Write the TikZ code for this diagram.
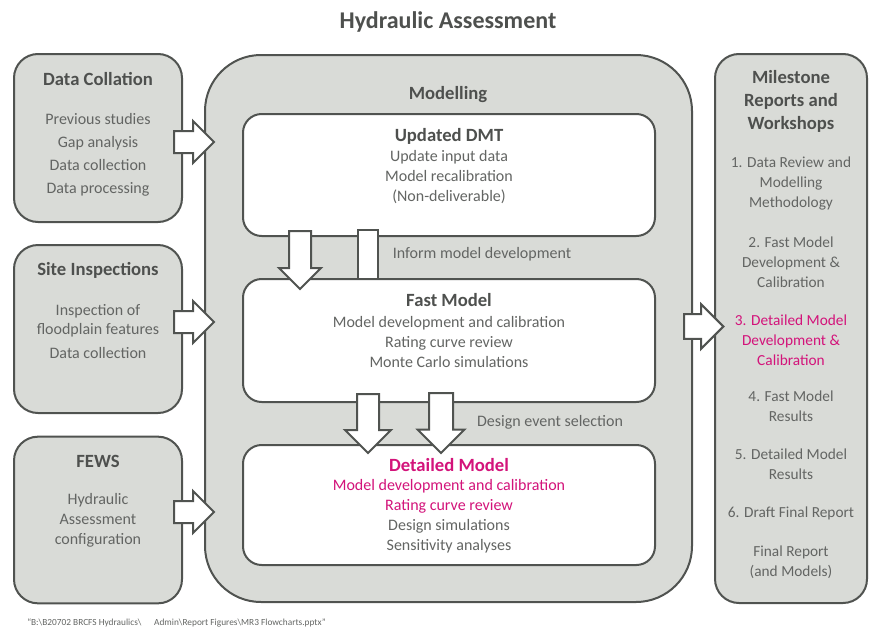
\documentclass[tikz,border=0pt]{standalone}
\usepackage{fontspec}
\setmainfont{Carlito}
\usetikzlibrary{shapes.arrows}
\definecolor{boxfill}{HTML}{D9DBD7}
\definecolor{edgec}{HTML}{505350}
\definecolor{txtc}{HTML}{636563}
\definecolor{ttlc}{HTML}{4E504E}
\definecolor{pinkc}{HTML}{D3137A}
\begin{document}
\begin{tikzpicture}[x=0.75pt,y=-0.75pt,
  sidebox/.style={draw=edgec, line width=1.5pt, fill=boxfill, rounded corners=18pt, minimum width=126pt, inner sep=0pt},
  bigbox/.style={draw=edgec, line width=1.5pt, fill=boxfill, rounded corners=42pt, inner sep=0pt},
  innerbox/.style={draw=edgec, line width=1.5pt, fill=white, rounded corners=14pt, minimum width=309pt, inner sep=0pt},
  ttl/.style={text=ttlc, font=\fontsize{14pt}{17.25pt}\selectfont\bfseries, align=center, inner sep=0pt},
  body/.style={text=txtc, font=\fontsize{12pt}{17.25pt}\selectfont, align=center, inner sep=0pt},
  ibody/.style={text=txtc, font=\fontsize{12pt}{15pt}\selectfont, align=center, inner sep=0pt},
  mbody/.style={text=txtc, font=\fontsize{11.5pt}{15pt}\selectfont, align=center, inner sep=0pt},
  blockarrow/.style={single arrow, draw=edgec, fill=white, line width=1.5pt, inner xsep=0pt, inner ysep=7.5pt, minimum width=0pt, single arrow head extend=7.5pt, anchor=tail},
  bar/.style={rectangle, draw=edgec, fill=white, line width=1.5pt, inner sep=0pt, minimum width=15pt}
]
\useasboundingbox (0,0) rectangle (873,628);

% title
\node[text=ttlc, font=\fontsize{18pt}{21pt}\selectfont\bfseries, inner sep=0pt] (title) at (448,22) {Hydraulic Assessment};

% side boxes
\node[sidebox, minimum height=126pt] (dc) at (98,138) {};
\node[sidebox, minimum height=126pt] (si) at (98,329) {};
\node[sidebox, minimum height=125pt] (fews) at (98,520) {};

% big boxes
\node[bigbox, minimum width=365.25pt, minimum height=410.25pt] (mod) at (448.5,328.5) {};
\node[sidebox, minimum width=114pt, minimum height=411.75pt] (ms) at (791,328.5) {};

% inner boxes
\node[innerbox, minimum height=91.5pt] (dmt) at (449,175) {};
\node[innerbox, minimum height=92.25pt] (fast) at (449,340.5) {};
\node[innerbox, minimum height=90pt] (det) at (449,505) {};

% side texts
\node[ttl] (dcT) at (98,79) {Data Collation};
\node[body] (dcB) at (98,155) {Previous studies\\Gap analysis\\Data collection\\Data processing};
\node[ttl] (siT) at (98,270) {Site Inspections};
\node[body, font=\fontsize{12pt}{14.25pt}\selectfont] (siB) at (98,321) {Inspection of\\floodplain features};
\node[body] (siC) at (98,353) {Data collection};
\node[ttl] (fewsT) at (98,461) {FEWS};
\node[body, font=\fontsize{12pt}{15pt}\selectfont] (fewsB) at (98,520) {Hydraulic\\Assessment\\configuration};

% modelling texts
\node[ttl] (modT) at (448,95) {Modelling};
\node[ttl] (dmtT) at (449,136) {Updated DMT};
\node[ibody] (dmtB) at (449,177.5) {Update input data\\Model recalibration\\(Non-deliverable)};
\node[ttl] (fastT) at (449,300) {Fast Model};
\node[ibody] (fastB) at (449,341.5) {Model development and calibration\\Rating curve review\\Monte Carlo simulations};
\node[ttl, text=pinkc] (detT) at (449,465) {Detailed Model};
\node[ibody] (detB) at (449,516) {\textcolor{pinkc}{Model development and calibration}\\\textcolor{pinkc}{Rating curve review}\\Design simulations\\Sensitivity analyses};

% milestone texts
\node[ttl] (msT) at (791,101) {Milestone\\Reports and\\Workshops};
\node[mbody] (m1) at (791,183) {1. Data Review and\\Modelling\\Methodology};
\node[mbody] (m2) at (791,262) {2. Fast Model\\Development \&\\Calibration};
\node[mbody, text=pinkc] (m3) at (791,340) {3. Detailed Model\\Development \&\\Calibration};
\node[mbody] (m4) at (791,406) {4. Fast Model\\Results};
\node[mbody] (m5) at (791,464.5) {5. Detailed Model\\Results};
\node[mbody] (m6) at (791,513) {6. Draft Final Report};
\node[mbody] (m7) at (791,562) {Final Report\\(and Models)};

% block arrows left -> modelling
\node[blockarrow, minimum height=30pt] (a1) at (173,142) {};
\node[blockarrow, minimum height=30pt] (a2) at (173,322) {};
\node[blockarrow, minimum height=30pt] (a3) at (173,512) {};
% modelling -> milestone
\node[blockarrow, minimum height=29.5pt, inner ysep=8.5pt, single arrow head extend=7.5pt] (a4) at (683,326.5) {};

% vertical arrows
\node[blockarrow, rotate=-90, minimum height=43.5pt] (d1) at (300,230) {};
\node[bar, minimum height=36.75pt] (b1) at (368,254.5) {};
\node[body] (inf) at (482,254) {Inform model development};

\node[blockarrow, rotate=-90, minimum height=44.25pt, single arrow head extend=9pt] (d2) at (368,393) {};
\node[blockarrow, rotate=-90, minimum height=45pt, inner ysep=8.25pt, single arrow head extend=8.5pt] (d3) at (441,392) {};
\node[body] (des) at (550,422) {Design event selection};

% footer
\node[text=txtc, font=\fontsize{7pt}{8pt}\selectfont, anchor=west, inner sep=0pt] (foot) at (27,623) {``B:\textbackslash B20702 BRCFS Hydraulics\textbackslash\ \ \ \ \ \ Admin\textbackslash Report Figures\textbackslash MR3 Flowcharts.pptx''};
\end{tikzpicture}
\end{document}
